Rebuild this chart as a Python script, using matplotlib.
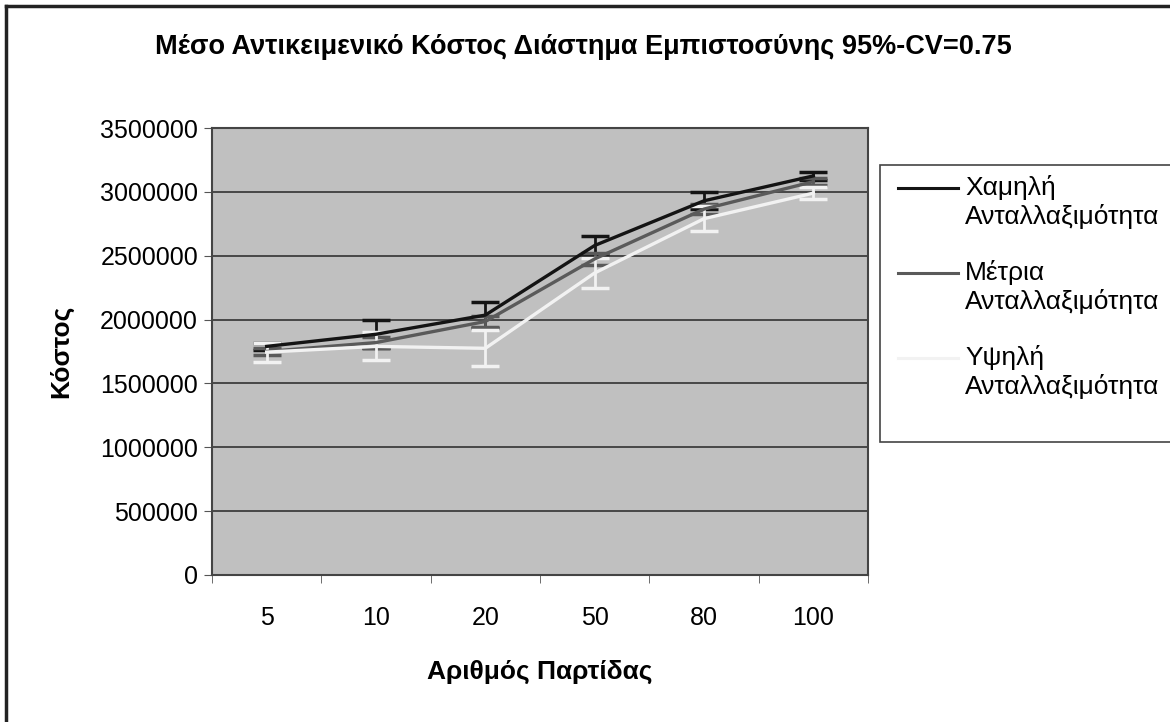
import matplotlib
matplotlib.use("Agg")
import matplotlib.pyplot as plt
from matplotlib.lines import Line2D
from matplotlib.patches import Rectangle
import numpy as np

plt.rcParams['font.family'] = ['Liberation Sans', 'DejaVu Sans']

categories = ["5", "10", "20", "50", "80", "100"]
series_names = ["Χαμηλή\nΑνταλλαξιμότητα", "Μέτρια\nΑνταλλαξιμότητα", "Υψηλή\nΑνταλλαξιμότητα"]
low_vals = [1790000, 1885000, 2035000, 2580000, 2930000, 3125000]
low_err = [30000, 110000, 100000, 75000, 65000, 30000]
med_vals = [1750000, 1820000, 1985000, 2475000, 2865000, 3080000]
med_err = [25000, 40000, 40000, 50000, 40000, 30000]
high_vals = [1745000, 1790000, 1775000, 2365000, 2790000, 2990000]
high_err = [75000, 110000, 140000, 120000, 100000, 45000]
yticks = [0, 500000, 1000000, 1500000, 2000000, 2500000, 3000000, 3500000]

colors = ["#141414", "#5a5a5a", "#f2f2f2"]

W, H = 1170, 722
fig = plt.figure(figsize=(W / 100, H / 100), dpi=100)
fig.patch.set_facecolor("white")
ax = fig.add_axes([212/W, 1-575/H, (868-212)/W, (575-128)/H])
ax.set_facecolor("#c0c0c0")

x = np.arange(len(categories))
for vals, errs, c, name in [(low_vals, low_err, colors[0], series_names[0]),
                            (med_vals, med_err, colors[1], series_names[1]),
                            (high_vals, high_err, colors[2], series_names[2])]:
    ax.errorbar(x, vals, yerr=errs, color=c, lw=2.4, elinewidth=2, capsize=10,
                capthick=2.5, label=name, zorder=3)

ax.set_xlim(-0.5, len(categories) - 0.5)
ax.set_ylim(0, 3500000)
ax.set_yticks(yticks)
ax.set_yticklabels([str(v) for v in yticks], fontsize=18)
ax.set_xticks(x)
ax.set_xticklabels(categories, fontsize=18)
ax.set_xticks(np.arange(len(categories) + 1) - 0.5, minor=True)
ax.tick_params(axis='x', which='major', length=0, pad=22)
ax.tick_params(axis='x', which='minor', length=6, color="#555555")
ax.tick_params(axis='y', length=6, color="#555555", pad=4)
ax.yaxis.grid(True, color="#333333", lw=1.2)
ax.set_axisbelow(True)
for s in ax.spines.values():
    s.set_color("#444444")
    s.set_linewidth(1.5)

ax.set_xlabel("Αριθμός Παρτίδας", fontsize=19, fontweight="bold", labelpad=22)
ax.set_ylabel("Κόστος", fontsize=19, fontweight="bold", labelpad=19)

fig.text(583/W, 1-47/H, "Μέσο Αντικειμενικό Κόστος Διάστημα Εμπιστοσύνης 95%-CV=0.75",
         fontsize=19.5, fontweight="bold", ha="center", va="center")

# legend box (partly cut off at the right edge as in the reference)
fig.add_artist(Rectangle((880/W, 1-442/H), 300/W, (442-165)/H, transform=fig.transFigure,
                         facecolor="white", edgecolor="#444444", lw=1.2))
legend_rows = [188, 273, 358]
for name, c, yrow in zip(series_names, colors, legend_rows):
    fig.add_artist(Line2D([898/W, 958/W], [1-yrow/H, 1-yrow/H], color=c, lw=2.2))
    fig.text(965/W, 1-(yrow-13)/H, name, fontsize=19, ha="left", va="top", linespacing=1.2)

# outer border (top and left)
fig.add_artist(Line2D([6/W, 1], [1-6/H, 1-6/H], color="#222222", lw=2.5))
fig.add_artist(Line2D([6/W, 6/W], [0, 1-6/H], color="#222222", lw=2.5))

fig.savefig("out.png", dpi=100)
